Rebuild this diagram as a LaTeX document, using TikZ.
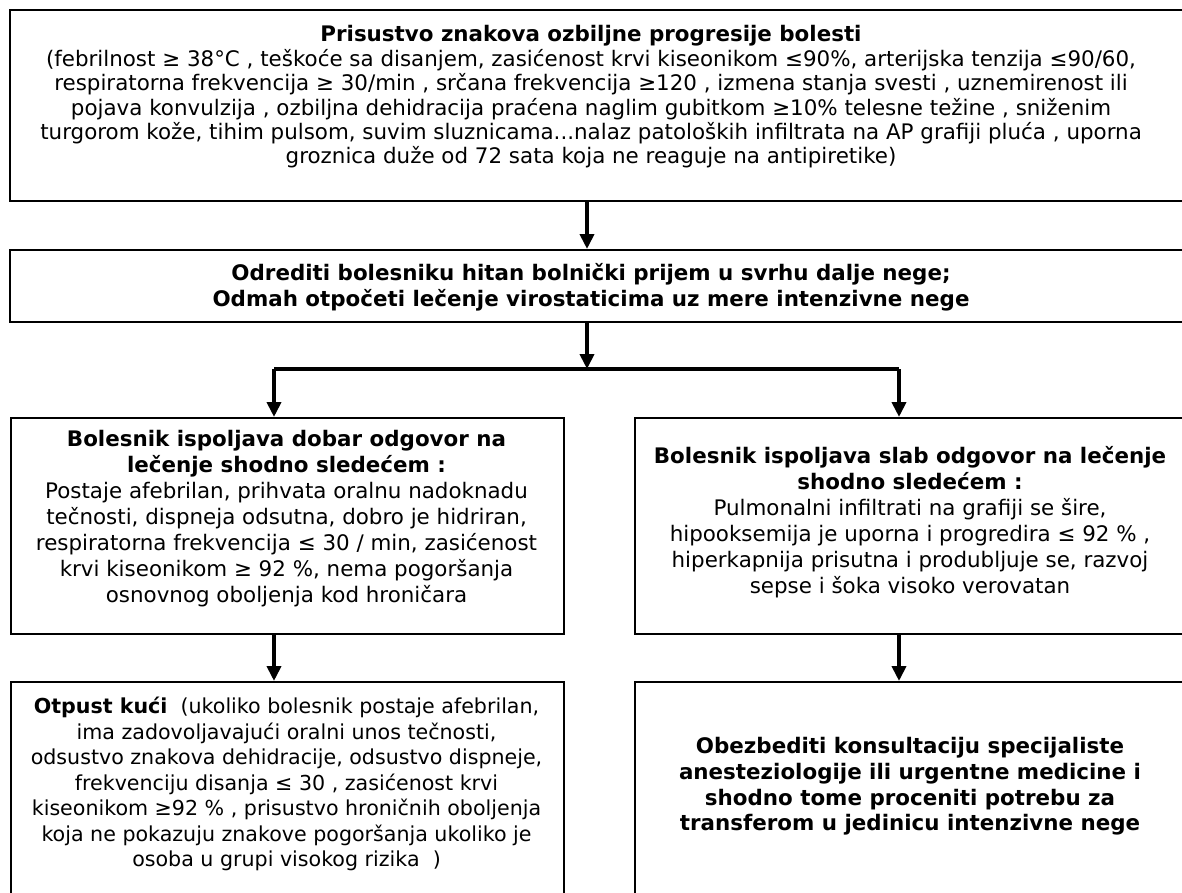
\documentclass[tikz,border=0pt]{standalone}
\usepackage{fontspec}
\setmainfont{DejaVu Sans}
\usetikzlibrary{arrows.meta,calc}
\begin{document}
\begin{tikzpicture}[x=1pt,y=-1pt,
  box/.style={draw,line width=2pt,inner sep=0pt,anchor=north west},
  txt/.style={align=center,inner sep=0pt,font=\fontsize{21.4}{24.4}\selectfont},
  arr/.style={line width=4pt,-{Triangle[length=15pt,width=14pt]}},
  conn/.style={line width=4pt}]
\useasboundingbox (0,0) rectangle (1182,892);
\clip (0,0) rectangle (1182,892);
% boxes
\node[box,minimum width=1180pt,minimum height=191pt] (top) at (9,9) {};
\node[box,minimum width=1180pt,minimum height=72pt] (mid) at (9,249) {};
\node[box,minimum width=553pt,minimum height=216pt] (left) at (10,417) {};
\node[box,minimum width=554pt,minimum height=216pt] (right) at (634,417) {};
\node[box,minimum width=553pt,minimum height=215pt] (bleft) at (10,681) {};
\node[box,minimum width=554pt,minimum height=215pt] (bright) at (634,681) {};
% texts
\node[txt] (ttop) at (591,97) {\textbf{Prisustvo znakova ozbiljne progresije bolesti}\\
(febrilnost ≥ 38°C , teškoće sa disanjem, zasićenost krvi kiseonikom ≤90\%, arterijska tenzija ≤90/60,\\
respiratorna frekvencija ≥ 30/min , srčana frekvencija ≥120 , izmena stanja svesti , uznemirenost ili\\
pojava konvulzija , ozbiljna dehidracija praćena naglim gubitkom ≥10\% telesne težine , sniženim\\
turgorom kože, tihim pulsom, suvim sluznicama...nalaz patoloških infiltrata na AP grafiji pluća , uporna\\
groznica duže od 72 sata koja ne reaguje na antipiretike)};
\node[txt,font=\fontsize{21.4}{25.5}\selectfont\bfseries] (tmid) at (591,287) {Odrediti bolesniku hitan bolnički prijem u svrhu dalje nege;\\
Odmah otpočeti lečenje virostaticima uz mere intenzivne nege};
\node[txt,font=\fontsize{21.4}{26}\selectfont] (tleft) at (286.5,519) {\textbf{Bolesnik ispoljava dobar odgovor na}\\
\textbf{lečenje shodno sledećem :}\\
Postaje afebrilan, prihvata oralnu nadoknadu\\
tečnosti, dispneja odsutna, dobro je hidriran,\\
respiratorna frekvencija ≤ 30 / min, zasićenost\\
krvi kiseonikom ≥ 92 \%, nema pogoršanja\\
osnovnog oboljenja kod hroničara};
\node[txt,font=\fontsize{21.4}{26}\selectfont] (tright) at (910,522) {\textbf{Bolesnik ispoljava slab odgovor na lečenje}\\
\textbf{shodno sledećem :}\\
Pulmonalni infiltrati na grafiji se šire,\\
hipooksemija je uporna i progredira ≤ 92 \% ,\\
hiperkapnija prisutna i produbljuje se, razvoj\\
sepse i šoka visoko verovatan};
\node[txt,font=\fontsize{20.6}{25.5}\selectfont] (tbleft) at (286.5,784) {\textbf{Otpust kući}\ \ (ukoliko bolesnik postaje afebrilan,\\
ima zadovoljavajući oralni unos tečnosti,\\
odsustvo znakova dehidracije, odsustvo dispneje,\\
frekvenciju disanja ≤ 30 , zasićenost krvi\\
kiseonikom ≥92 \% , prisustvo hroničnih oboljenja\\
koja ne pokazuju znakove pogoršanja ukoliko je\\
osoba u grupi visokog rizika\ \ )};
\node[txt,font=\fontsize{21.4}{25.7}\selectfont\bfseries] (tbright) at (910,786.5) {Obezbediti konsultaciju specijaliste\\
anesteziologije ili urgentne medicine i\\
shodno tome proceniti potrebu za\\
transferom u jedinicu intenzivne nege};
% connector helpers
\coordinate (spine) at (587,0);
\coordinate (lx) at (274,0);
\coordinate (rx) at (899,0);
\coordinate (split) at (587,369);
% connectors
\draw[arr] (top.south -| spine) -- (mid.north -| spine);
\draw[arr] (mid.south -| spine) -- (split);
\draw[conn] (split -| lx) -- (split -| rx);
\draw[arr] (split -| lx) -- (left.north -| lx);
\draw[arr] (split -| rx) -- (right.north -| rx);
\draw[arr] (left.south -| lx) -- (bleft.north -| lx);
\draw[arr] (right.south -| rx) -- (bright.north -| rx);
\end{tikzpicture}
\end{document}
